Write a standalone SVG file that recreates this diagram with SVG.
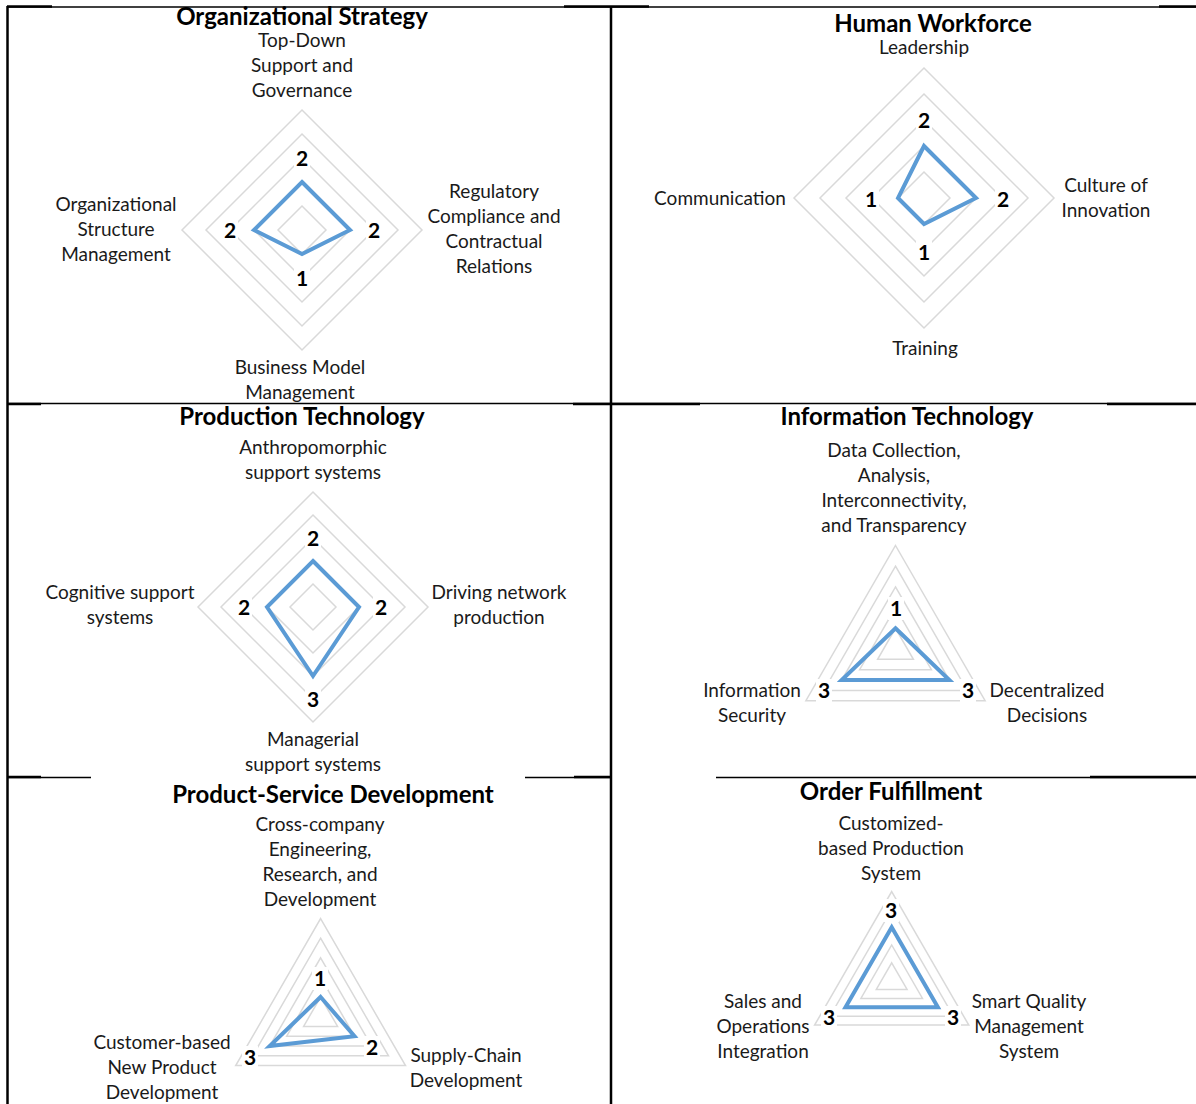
<svg xmlns="http://www.w3.org/2000/svg" width="1196" height="1104" viewBox="0 0 1196 1104">
  <style>
    .ring { fill: none; stroke: #d9d9d9; stroke-width: 1.5; stroke-linejoin: miter; }
    .data { fill: none; stroke: #5b9bd5; stroke-width: 4; stroke-linejoin: miter; }
    .title { font-family: Lato, "Liberation Sans", sans-serif; font-weight: bold; font-size: 24px; fill: #000; text-anchor: middle; }
    .cat { font-family: Lato, "Liberation Sans", sans-serif; font-size: 19px; fill: #1a1a1a; text-anchor: middle; }
    .val { font-family: Lato, "Liberation Sans", sans-serif; font-weight: bold; font-size: 21px; fill: #000; text-anchor: middle; }
    .valbg { fill: #fff; }
    .rule { stroke: #000; fill: none; }
    .thin { stroke-width: 1.5; }
    .thick { stroke-width: 2.5; }
  </style>

  <rect width="1196" height="1104" fill="#fff"/>

  <!-- table rules -->
  <g id="table">
    <line class="rule thin" x1="7" y1="7" x2="1196" y2="7"/>
    <line class="rule thick" x1="7" y1="6.5" x2="52" y2="6.5"/>
    <line class="rule thick" x1="564" y1="6.5" x2="649" y2="6.5"/>
    <line class="rule thick" x1="1159" y1="6.5" x2="1196" y2="6.5"/>

    <line class="rule thin" x1="7" y1="403.5" x2="1196" y2="403.5"/>
    <line class="rule thick" x1="7" y1="404" x2="41" y2="404"/>
    <line class="rule thick" x1="573" y1="404" x2="700" y2="404"/>
    <line class="rule thick" x1="1107" y1="404" x2="1196" y2="404"/>

    <line class="rule thin" x1="7" y1="777.5" x2="91" y2="777.5"/>
    <line class="rule thin" x1="525" y1="777.5" x2="611" y2="777.5"/>
    <line class="rule thin" x1="716" y1="777.5" x2="1196" y2="777.5"/>
    <line class="rule thick" x1="7" y1="777" x2="41" y2="777"/>
    <line class="rule thick" x1="574" y1="777" x2="611" y2="777"/>
    <line class="rule thick" x1="1090" y1="777" x2="1196" y2="777"/>

    <line class="rule thick" x1="7.5" y1="6" x2="7.5" y2="1104"/>
    <line class="rule thick" x1="611" y1="6" x2="611" y2="1104"/>
  </g>

  <!-- Organizational Strategy -->
  <g id="organizational-strategy">
    <polygon class="ring" points="302,206 326,230 302,254 278,230"/>
    <polygon class="ring" points="302,182 350,230 302,278 254,230"/>
    <polygon class="ring" points="302,158 374,230 302,302 230,230"/>
    <polygon class="ring" points="302,134 398,230 302,326 206,230"/>
    <polygon class="ring" points="302,110 422,230 302,350 182,230"/>
    <polygon class="data" points="302,182 350,230 302,254 254,230"/>
    <rect class="valbg" x="294" y="147" width="16" height="23"/>
    <rect class="valbg" x="366" y="219" width="16" height="23"/>
    <rect class="valbg" x="294" y="267" width="16" height="23"/>
    <rect class="valbg" x="222" y="219" width="16" height="23"/>
    <text class="val" x="302" y="166">2</text>
    <text class="val" x="374" y="238">2</text>
    <text class="val" x="302" y="286">1</text>
    <text class="val" x="230" y="238">2</text>
    <text class="title" x="302" y="25">Organizational Strategy</text>
    <text class="cat" x="302" y="47">Top-Down</text>
    <text class="cat" x="302" y="72">Support and</text>
    <text class="cat" x="302" y="97">Governance</text>
    <text class="cat" x="494" y="198">Regulatory</text>
    <text class="cat" x="494" y="223">Compliance and</text>
    <text class="cat" x="494" y="248">Contractual</text>
    <text class="cat" x="494" y="273">Relations</text>
    <text class="cat" x="116" y="211">Organizational</text>
    <text class="cat" x="116" y="236">Structure</text>
    <text class="cat" x="116" y="261">Management</text>
    <text class="cat" x="300" y="374">Business Model</text>
    <text class="cat" x="300" y="399">Management</text>
  </g>

  <!-- Human Workforce -->
  <g id="human-workforce">
    <polygon class="ring" points="924,172 950,198 924,224 898,198"/>
    <polygon class="ring" points="924,146 976,198 924,250 872,198"/>
    <polygon class="ring" points="924,120 1002,198 924,276 846,198"/>
    <polygon class="ring" points="924,94 1028,198 924,302 820,198"/>
    <polygon class="ring" points="924,68 1054,198 924,328 794,198"/>
    <polygon class="data" points="924,146 976,198 924,224 898,198"/>
    <rect class="valbg" x="916" y="109" width="16" height="23"/>
    <rect class="valbg" x="995" y="188" width="16" height="23"/>
    <rect class="valbg" x="916" y="241" width="16" height="23"/>
    <rect class="valbg" x="863" y="188" width="16" height="23"/>
    <text class="val" x="924" y="128">2</text>
    <text class="val" x="1003" y="207">2</text>
    <text class="val" x="924" y="260">1</text>
    <text class="val" x="871" y="207">1</text>
    <text class="title" x="933" y="32">Human Workforce</text>
    <text class="cat" x="924" y="54">Leadership</text>
    <text class="cat" x="1106" y="192">Culture of</text>
    <text class="cat" x="1106" y="217">Innovation</text>
    <text class="cat" x="720" y="205">Communication</text>
    <text class="cat" x="925" y="355">Training</text>
  </g>

  <!-- Production Technology -->
  <g id="production-technology">
    <polygon class="ring" points="313,584 336,607 313,630 290,607"/>
    <polygon class="ring" points="313,561 359,607 313,653 267,607"/>
    <polygon class="ring" points="313,538 382,607 313,676 244,607"/>
    <polygon class="ring" points="313,515 405,607 313,699 221,607"/>
    <polygon class="ring" points="313,492 428,607 313,722 198,607"/>
    <polygon class="data" points="313,561 359,607 313,676 267,607"/>
    <rect class="valbg" x="305" y="527" width="16" height="23"/>
    <rect class="valbg" x="373" y="596" width="16" height="23"/>
    <rect class="valbg" x="305" y="688" width="16" height="23"/>
    <rect class="valbg" x="236" y="596" width="16" height="23"/>
    <text class="val" x="313" y="546">2</text>
    <text class="val" x="381" y="615">2</text>
    <text class="val" x="313" y="707">3</text>
    <text class="val" x="244" y="615">2</text>
    <text class="title" x="302" y="425">Production Technology</text>
    <text class="cat" x="313" y="454">Anthropomorphic</text>
    <text class="cat" x="313" y="479">support systems</text>
    <text class="cat" x="499" y="599">Driving network</text>
    <text class="cat" x="499" y="624">production</text>
    <text class="cat" x="120" y="599">Cognitive support</text>
    <text class="cat" x="120" y="624">systems</text>
    <text class="cat" x="313" y="746">Managerial</text>
    <text class="cat" x="313" y="771">support systems</text>
  </g>

  <!-- Information Technology -->
  <g id="information-technology">
    <polygon class="ring" points="895.5,628.3 913.4,659.35 877.6,659.35"/>
    <polygon class="ring" points="895.5,607.6 931.4,669.7 859.6,669.7"/>
    <polygon class="ring" points="895.5,586.9 949.3,680.05 841.7,680.05"/>
    <polygon class="ring" points="895.5,566.2 967.2,690.4 823.8,690.4"/>
    <polygon class="ring" points="895.5,545.5 985.1,700.75 805.9,700.75"/>
    <polygon class="data" points="895.5,628.3 949.3,680.05 841.7,680.05"/>
    <rect class="valbg" x="888" y="597" width="16" height="23"/>
    <rect class="valbg" x="816" y="679" width="16" height="23"/>
    <rect class="valbg" x="960" y="679" width="16" height="23"/>
    <text class="val" x="896" y="616">1</text>
    <text class="val" x="824" y="698">3</text>
    <text class="val" x="968" y="698">3</text>
    <text class="title" x="907" y="425">Information Technology</text>
    <text class="cat" x="894" y="457">Data Collection,</text>
    <text class="cat" x="894" y="482">Analysis,</text>
    <text class="cat" x="894" y="507">Interconnectivity,</text>
    <text class="cat" x="894" y="532">and Transparency</text>
    <text class="cat" x="752" y="697">Information</text>
    <text class="cat" x="752" y="722">Security</text>
    <text class="cat" x="1047" y="697">Decentralized</text>
    <text class="cat" x="1047" y="722">Decisions</text>
  </g>

  <!-- Product-Service Development -->
  <g id="product-service-development">
    <polygon class="ring" points="320.6,997 337.6,1026.4 303.6,1026.4"/>
    <polygon class="ring" points="320.6,977.4 354.5,1036.2 286.7,1036.2"/>
    <polygon class="ring" points="320.6,957.8 371.5,1046 269.7,1046"/>
    <polygon class="ring" points="320.6,938.2 388.5,1055.8 252.7,1055.8"/>
    <polygon class="ring" points="320.6,918.6 405.5,1065.6 235.7,1065.6"/>
    <polygon class="data" points="320.6,997 354.5,1036.2 269.7,1046"/>
    <rect class="valbg" x="312" y="967" width="16" height="23"/>
    <rect class="valbg" x="364" y="1036" width="16" height="23"/>
    <rect class="valbg" x="242" y="1046" width="16" height="23"/>
    <text class="val" x="320" y="986">1</text>
    <text class="val" x="372" y="1055">2</text>
    <text class="val" x="250" y="1065">3</text>
    <text class="title" x="333" y="803">Product-Service Development</text>
    <text class="cat" x="320" y="831">Cross-company</text>
    <text class="cat" x="320" y="856">Engineering,</text>
    <text class="cat" x="320" y="881">Research, and</text>
    <text class="cat" x="320" y="906">Development</text>
    <text class="cat" x="162" y="1049">Customer-based</text>
    <text class="cat" x="162" y="1074">New Product</text>
    <text class="cat" x="162" y="1099">Development</text>
    <text class="cat" x="466" y="1062">Supply-Chain</text>
    <text class="cat" x="466" y="1087">Development</text>
  </g>

  <!-- Order Fulfillment -->
  <g id="order-fulfillment">
    <polygon class="ring" points="891.7,962.8 907.1,989.5 876.3,989.5"/>
    <polygon class="ring" points="891.7,945 922.5,998.4 860.9,998.4"/>
    <polygon class="ring" points="891.7,927.2 937.9,1007.3 845.5,1007.3"/>
    <polygon class="ring" points="891.7,909.4 953.4,1016.2 830,1016.2"/>
    <polygon class="ring" points="891.7,891.6 968.8,1025.1 814.6,1025.1"/>
    <polygon class="data" points="891.7,927.2 937.9,1007.3 845.5,1007.3"/>
    <rect class="valbg" x="883" y="899" width="16" height="23"/>
    <rect class="valbg" x="821" y="1006" width="16" height="23"/>
    <rect class="valbg" x="945" y="1006" width="16" height="23"/>
    <text class="val" x="891" y="918">3</text>
    <text class="val" x="829" y="1025">3</text>
    <text class="val" x="953" y="1025">3</text>
    <text class="title" x="891" y="800">Order Fulfillment</text>
    <text class="cat" x="891" y="830">Customized-</text>
    <text class="cat" x="891" y="855">based Production</text>
    <text class="cat" x="891" y="880">System</text>
    <text class="cat" x="763" y="1008">Sales and</text>
    <text class="cat" x="763" y="1033">Operations</text>
    <text class="cat" x="763" y="1058">Integration</text>
    <text class="cat" x="1029" y="1008">Smart Quality</text>
    <text class="cat" x="1029" y="1033">Management</text>
    <text class="cat" x="1029" y="1058">System</text>
  </g>
</svg>
